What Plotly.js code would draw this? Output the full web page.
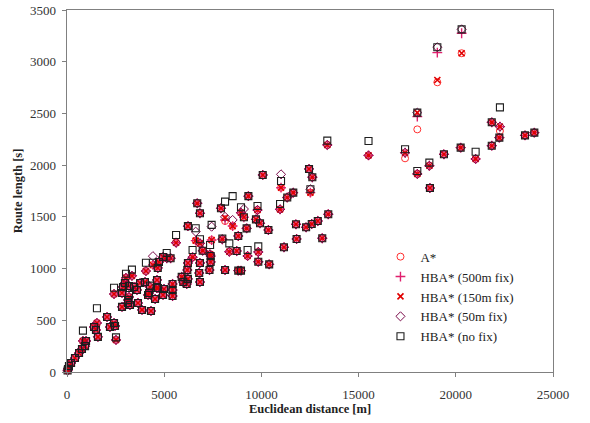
<!DOCTYPE html>
<html>
<head>
<meta charset="utf-8">
<script src="https://cdn.plot.ly/plotly-3.0.1.min.js"></script>
<style>
  html, body { margin: 0; padding: 0; background: #fff; }
  #chart { width: 590px; height: 423px; }
</style>
</head>
<body>
<div id="chart"></div>
<script>
// Euclidean distance of each test route [m]
const distance = [
  30, 50, 100, 210, 410, 620, 770, 820, 980, 930,
  1390, 1540, 1490, 1590, 2060, 2210, 2420, 2520, 2470, 2420,
  2830, 3140, 3190, 2880, 3190, 3035, 3340, 3650, 3860, 4170,
  4320, 3450, 3760, 4010, 2980, 2830, 3240, 3140, 3600, 4060,
  4420, 4670, 4630, 4270, 4220, 4610, 4530, 4990, 4680, 5430,
  5430, 5430, 6160, 5130, 5610, 6220, 6220, 4940, 5330, 4730,
  5900, 5980, 6220, 6190, 4940, 6840, 6800, 6840, 6700, 6840,
  6620, 6460, 6840, 6980, 7390, 7390, 7440, 7360, 7330, 7920,
  8130, 8520, 8950, 9100, 9240, 9330, 9800, 9720, 9930, 10360,
  8810, 7990, 8350, 8730, 9290, 9840, 9840, 10400, 8810, 8950,
  8130, 10070, 11010, 11640, 11330, 12520, 10960, 13440, 12900, 12590,
  12300, 11780, 11810, 13130, 11160, 12450, 12620, 13390, 15510, 17390,
  18020, 18020, 19050, 20300, 18640, 18670, 19390, 20250, 21020, 21850,
  21850, 22270, 22240, 23560, 24040
];

// Route length found by each search variant [s]
const aStar = [
  15, 29, 58, 87, 135, 184, 222, 300, 300, 250,
  435, 474, 406, 340, 532, 435, 474, 310, 445, 754,
  630, 667, 725, 822, 832, 910, 930, 667, 600, 745,
  590, 822, 860, 870, 860, 764, 648, 696, 793, 976,
  1035, 1005, 890, 822, 764, 812, 706, 803, 812, 851,
  793, 735, 851, 1100, 1250, 1410, 1054, 1112, 1100, 1063,
  920, 870, 900, 986, 745, 1054, 957, 870, 1631, 1535,
  1270, 1110, 1244, 1173, 1122, 1064, 1276, 1138, 986, 1583,
  1460, 1411, 1540, 1496, 1389, 1700, 1566, 1476, 1438, 1373,
  1315, 1283, 1163, 1170, 1122, 1160, 1066, 1041, 980, 980,
  986, 1905, 1782, 1734, 1687, 1734, 1573, 1525, 1460, 1431,
  1399, 1428, 1286, 1293, 1206, 1963, 1883, 2195, 2094, 2066,
  1915, 2346, 2801, 3082, 1994, 1779, 2105, 2169, 2060, 2414,
  2188, 2330, 2266, 2288, 2314
];

const hba500 = [
  15, 29, 58, 87, 135, 184, 222, 300, 300, 250,
  435, 474, 406, 340, 532, 435, 474, 310, 445, 754,
  630, 667, 725, 822, 832, 910, 930, 667, 600, 745,
  590, 822, 860, 870, 860, 764, 648, 696, 793, 976,
  1035, 1005, 890, 822, 764, 812, 706, 803, 812, 851,
  793, 735, 851, 1100, 1250, 1410, 1054, 1112, 1100, 1063,
  920, 870, 900, 986, 745, 1054, 957, 870, 1631, 1535,
  1270, 1110, 1244, 1173, 1122, 1064, 1276, 1138, 986, 1583,
  1470, 1411, 1540, 1496, 1389, 1700, 1566, 1476, 1438, 1373,
  1315, 1283, 1163, 1170, 1122, 1160, 1066, 1041, 980, 980,
  986, 1905, 1782, 1734, 1687, 1734, 1573, 1525, 1460, 1431,
  1399, 1428, 1286, 1293, 1206, 1963, 1883, 2195, 2094, 2120,
  1915, 2469, 3088, 3275, 1994, 1779, 2105, 2169, 2060, 2414,
  2188, 2372, 2266, 2288, 2314
];

const hba150 = [
  15, 29, 58, 87, 135, 184, 222, 300, 300, 250,
  435, 474, 406, 340, 532, 435, 474, 310, 445, 754,
  630, 667, 725, 822, 832, 910, 930, 667, 600, 745,
  590, 822, 860, 870, 860, 764, 648, 696, 793, 976,
  1035, 1005, 890, 822, 764, 812, 706, 803, 812, 851,
  793, 735, 851, 1100, 1250, 1410, 1054, 1112, 1100, 1063,
  920, 870, 900, 986, 745, 1054, 957, 870, 1631, 1535,
  1270, 1110, 1244, 1173, 1122, 1064, 1276, 1138, 986, 1583,
  1490, 1411, 1540, 1496, 1389, 1700, 1566, 1476, 1438, 1373,
  1315, 1283, 1163, 1170, 1122, 1160, 1066, 1041, 980, 980,
  986, 1905, 1782, 1734, 1687, 1734, 1573, 1525, 1460, 1431,
  1399, 1428, 1286, 1293, 1206, 1963, 1883, 2195, 2094, 2120,
  1915, 2508, 2823, 3082, 1994, 1779, 2105, 2169, 2060, 2414,
  2188, 2372, 2266, 2288, 2314
];

const hba50 = [
  15, 29, 58, 87, 135, 184, 222, 300, 300, 250,
  435, 474, 406, 340, 532, 435, 474, 310, 445, 754,
  630, 667, 725, 822, 832, 910, 930, 667, 600, 745,
  590, 822, 860, 870, 860, 764, 648, 696, 793, 976,
  1120, 1005, 890, 822, 764, 812, 706, 803, 812, 851,
  793, 735, 851, 1100, 1250, 1410, 1054, 1112, 1100, 1063,
  920, 870, 900, 986, 745, 1054, 957, 870, 1631, 1535,
  1357, 1110, 1244, 1173, 1122, 1064, 1405, 1138, 986, 1583,
  1500, 1470, 1540, 1576, 1389, 1700, 1566, 1476, 1438, 1373,
  1315, 1283, 1163, 1170, 1122, 1160, 1066, 1041, 980, 980,
  986, 1905, 1911, 1734, 1687, 1767, 1573, 1525, 1460, 1431,
  1399, 1428, 1286, 1293, 1206, 1963, 1883, 2195, 2094, 2120,
  1915, 2508, 3140, 3313, 1994, 1779, 2105, 2169, 2060, 2414,
  2188, 2372, 2266, 2288, 2314
];

const hbaNoFix = [
  15, 29, 58, 87, 135, 184, 222, 400, 300, 250,
  435, 616, 406, 340, 532, 435, 474, 335, 445, 815,
  630, 667, 745, 822, 832, 950, 990, 667, 600, 745,
  590, 822, 860, 870, 860, 764, 648, 696, 793, 1057,
  1057, 1005, 890, 835, 764, 812, 706, 803, 812, 851,
  793, 735, 851, 1150, 1325, 1410, 1054, 1112, 1100, 1063,
  920, 870, 900, 986, 745, 1054, 957, 870, 1631, 1535,
  1390, 1180, 1283, 1173, 1122, 1064, 1422, 1228, 986, 1583,
  1647, 1700, 1593, 1496, 1389, 1700, 1605, 1476, 1438, 1373,
  1315, 1290, 1244, 1170, 1180, 1215, 1066, 1041, 980, 980,
  986, 1905, 1847, 1734, 1687, 1767, 1625, 1525, 1460, 1431,
  1399, 1428, 1286, 1293, 1206, 1963, 1883, 2237, 2234, 2153,
  1944, 2508, 3140, 3313, 2024, 1779, 2105, 2169, 2130, 2414,
  2188, 2559, 2266, 2288, 2314
];

const seriesNames = ['A*', 'HBA* (500m fix)', 'HBA* (150m fix)', 'HBA* (50m fix)', 'HBA* (no fix)'];
const xTicks = [0, 5000, 10000, 15000, 20000, 25000];
const yTicks = [0, 500, 1000, 1500, 2000, 2500, 3000, 3500];

const serif = '"Liberation Serif", "DejaVu Serif", serif';

function series(name, values, symbol, color, size, lw) {
  return {
    type: 'scatter',
    mode: 'markers',
    name: name,
    x: distance,
    y: values,
    marker: {
      symbol: symbol,
      size: size,
      color: color,
      line: { color: color, width: lw }
    },
    cliponaxis: false
  };
}

const traces = [
  series(seriesNames[0], aStar, 'circle-open', '#ff3030', 7, 1),
  series(seriesNames[1], hba500, 'cross-thin-open', '#e0206e', 7, 1.4),
  series(seriesNames[2], hba150, 'x-thin-open', '#e00000', 6, 1.6),
  series(seriesNames[3], hba50, 'diamond-open', '#7a0a4a', 7, 1),
  series(seriesNames[4], hbaNoFix, 'square-open', '#1e1e1e', 7, 1.1)
];

const axisCommon = {
  showgrid: false,
  zeroline: false,
  showline: true,
  mirror: true,
  linecolor: '#808080',
  linewidth: 1.3,
  ticks: 'outside',
  ticklen: 4,
  tickwidth: 1,
  tickcolor: '#808080',
  tickfont: { family: serif, size: 13, color: '#333' }
};

const layout = {
  width: 590,
  height: 423,
  margin: { l: 67, r: 37, t: 10, b: 51 },
  paper_bgcolor: '#fff',
  plot_bgcolor: '#fff',
  showlegend: true,
  legend: {
    x: 0.645, y: 0.36, xanchor: 'left', yanchor: 'top',
    bgcolor: 'rgba(0,0,0,0)',
    font: { family: serif, size: 13, color: '#222' },
    tracegroupgap: 0,
    itemwidth: 30
  },
  xaxis: Object.assign({}, axisCommon, {
    range: [0, 25000],
    tickvals: xTicks,
    ticktext: xTicks.map(String),
    ticklabelstandoff: 6,
    title: { text: '<b>Euclidean distance [m]</b>', font: { family: serif, size: 12.5, color: '#222' }, standoff: 3 }
  }),
  yaxis: Object.assign({}, axisCommon, {
    range: [0, 3500],
    tickvals: yTicks,
    ticktext: yTicks.map(String),
    ticklabelstandoff: 3,
    title: { text: '<b>Route length [s]</b>', font: { family: serif, size: 12.5, color: '#222' }, standoff: 4 }
  })
};

Plotly.newPlot('chart', traces, layout, { displayModeBar: false, staticPlot: true });
</script>
</body>
</html>
